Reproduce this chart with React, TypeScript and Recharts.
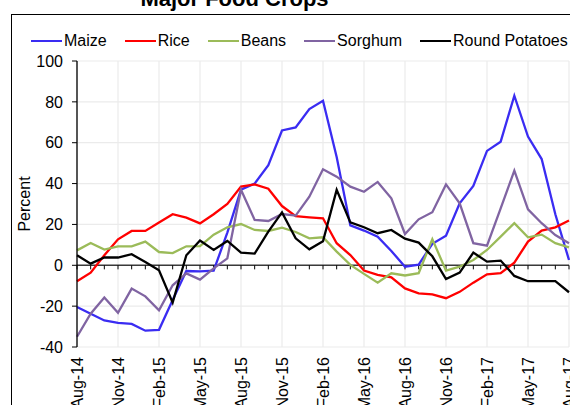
import { LineChart, Line, XAxis, YAxis, CartesianGrid, ReferenceLine } from "recharts";

const months = [
  "Aug-14", "Sep-14", "Oct-14", "Nov-14", "Dec-14", "Jan-15", "Feb-15", "Mar-15", "Apr-15",
  "May-15", "Jun-15", "Jul-15", "Aug-15", "Sep-15", "Oct-15", "Nov-15", "Dec-15", "Jan-16",
  "Feb-16", "Mar-16", "Apr-16", "May-16", "Jun-16", "Jul-16", "Aug-16", "Sep-16", "Oct-16",
  "Nov-16", "Dec-16", "Jan-17", "Feb-17", "Mar-17", "Apr-17", "May-17", "Jun-17", "Jul-17",
  "Aug-17",
];

const tickLabels = [
  "Aug-14", "Nov-14", "Feb-15", "May-15", "Aug-15", "Nov-15", "Feb-16",
  "May-16", "Aug-16", "Nov-16", "Feb-17", "May-17", "Aug-17",
];

const yTicks = [-40, -20, 0, 20, 40, 60, 80, 100];

const maize = [
  -20.4, -23.7, -27, -28.2, -28.7, -32, -31.6, -17, -2.8, -3, -2.6, 16, 37, 40, 49, 66, 67.5,
  76.5, 80.5, 53, 19.5, 17, 14, 7, -0.7, 0.3, 10.5, 14.5, 30.3, 38.8, 56, 60.5, 83, 63, 52, 25,
  2.6,
];
const rice = [
  -7.8, -3.6, 4.9, 12.7, 16.8, 16.8, 20.9, 25, 23.3, 20.5, 25, 30, 38.5, 39.6, 37.5, 29, 24.1,
  23.5, 23, 10.8, 5, -2.6, -4.7, -5.9, -11.3, -13.7, -14.2, -16.1, -13, -8.5, -4.4, -3.9, 1.3,
  11.6, 17, 18.6, 21.9,
];
const beans = [
  7.3, 10.9, 7.7, 9.3, 9.3, 11.6, 6.5, 6, 9.3, 9.4, 15, 18.6, 20.2, 17.3, 16.8, 18.4, 16.3, 13.2,
  13.7, 6.7, 0.2, -4.2, -8.5, -3.9, -5, -3.9, 12.8, -2.6, -0.7, 2.6, 7.5, 14, 20.6, 13.7, 15,
  10.8, 8.8,
];
const sorghum = [
  -35, -23.7, -15.8, -23.3, -11.4, -15.2, -22, -9.8, -4, -7, -1.5, 3.4, 37, 22.2, 21.7, 25.1,
  24.3, 33.6, 47, 43.4, 38.5, 36, 40.8, 32.8, 15.3, 22.5, 26, 39.6, 30.3, 10.8, 9.6, 27.9, 46.3,
  27.4, 20.6, 14.8, 10.8,
];
const potatoes = [
  4.9, 0.8, 3.8, 3.8, 5.4, 1.6, -2.4, -18.3, 4.9, 12.1, 7.5, 11.9, 6.2, 5.7, 16.5, 25.9, 13.2,
  7.8, 11.8, 36.9, 21, 18.6, 15.7, 17.3, 13, 11.1, 4.4, -6.7, -3.6, 6.2, 1.8, 2.3, -5.2, -7.8,
  -7.8, -7.8, -13.2,
];

const series = [
  { key: "maize", name: "Maize", color: "#3a2cf2", values: maize },
  { key: "rice", name: "Rice", color: "#ff0000", values: rice },
  { key: "beans", name: "Beans", color: "#9bbb59", values: beans },
  { key: "sorghum", name: "Sorghum", color: "#8064a2", values: sorghum },
  { key: "potatoes", name: "Round Potatoes", color: "#000000", values: potatoes },
];

const data = months.map((m, i) => {
  const row: Record<string, string | number> = { month: m };
  series.forEach((s) => {
    row[s.key] = s.values[i];
  });
  return row;
});

const FONT = "'Liberation Sans', Arial, sans-serif";

function MonthTick({ x, y, payload }: any) {
  return (
    <text
      transform={`translate(${x},${y + 10}) rotate(-90)`}
      textAnchor="end"
      dy="0.35em"
      fontSize={16}
      fontFamily={FONT}
      fill="#000"
    >
      {payload.value}
    </text>
  );
}

export default function App() {
  return (
    <div
      style={{
        position: "absolute",
        left: 0,
        top: 0,
        width: 570,
        height: 405,
        overflow: "hidden",
        background: "#fff",
        fontFamily: FONT,
      }}
    >
      {/* chart frame, cut off on the right and bottom */}
      <div
        style={{
          position: "absolute",
          left: 11,
          top: 14,
          width: 600,
          height: 420,
          borderLeft: "1.5px solid #000",
          borderTop: "1.5px solid #000",
        }}
      />
      <div
        style={{
          position: "absolute",
          left: 0,
          width: 469,
          top: -14,
          textAlign: "center",
          fontSize: 22,
          fontWeight: "bold",
          lineHeight: "26px",
          whiteSpace: "nowrap",
        }}
      >
        Major Food Crops
      </div>
      <div
        style={{
          position: "absolute",
          left: 31,
          top: 32,
          display: "flex",
          alignItems: "center",
          fontSize: 16,
          lineHeight: "18px",
          whiteSpace: "nowrap",
        }}
      >
        {series.map((s) => (
          <div key={s.key} style={{ display: "flex", alignItems: "center", marginRight: 18 }}>
            <span style={{ display: "inline-block", width: 31, height: 2.5, background: s.color, marginRight: 2 }} />
            <span>{s.name}</span>
          </div>
        ))}
      </div>

      <LineChart
        width={570}
        height={405}
        data={data}
        margin={{ top: 61, right: 1, bottom: 10, left: 0 }}
        style={{ position: "absolute", left: 0, top: 0 }}
      >
        <CartesianGrid stroke="#ebebeb" strokeWidth={1.2} />
        <XAxis
          dataKey="month"
          ticks={tickLabels}
          interval={0}
          height={48}
          axisLine={false}
          tickLine={false}
          tickSize={0}
          tickMargin={0}
          tick={<MonthTick />}
        />
        <YAxis
          domain={[-40, 100]}
          ticks={yTicks}
          width={77}
          axisLine={{ stroke: "#000", strokeWidth: 1.3 }}
          tickLine={{ stroke: "#000" }}
          tickSize={5}
          tickMargin={9}
          tick={{ fontSize: 16, fontFamily: FONT, fill: "#000" }}
          label={({ viewBox }: any) => (
            <text
              transform={`translate(${viewBox.x + 24},${viewBox.y + viewBox.height / 2}) rotate(-90)`}
              textAnchor="middle"
              dy="0.35em"
              fontSize={16}
              fontFamily={FONT}
              fill="#000"
            >
              Percent
            </text>
          )}
        />
        <ReferenceLine y={0} stroke="#3a3a3a" strokeWidth={1.6} />
        {months.map((m) => (
          <ReferenceLine
            key={m}
            segment={[
              { x: m, y: 0 },
              { x: m, y: -2 },
            ]}
            stroke="#000"
            strokeWidth={1}
          />
        ))}
        {series.map((s) => (
          <Line
            key={s.key}
            type="linear"
            dataKey={s.key}
            name={s.name}
            stroke={s.color}
            strokeWidth={2.3}
            dot={false}
            isAnimationActive={false}
          />
        ))}
      </LineChart>
    </div>
  );
}
